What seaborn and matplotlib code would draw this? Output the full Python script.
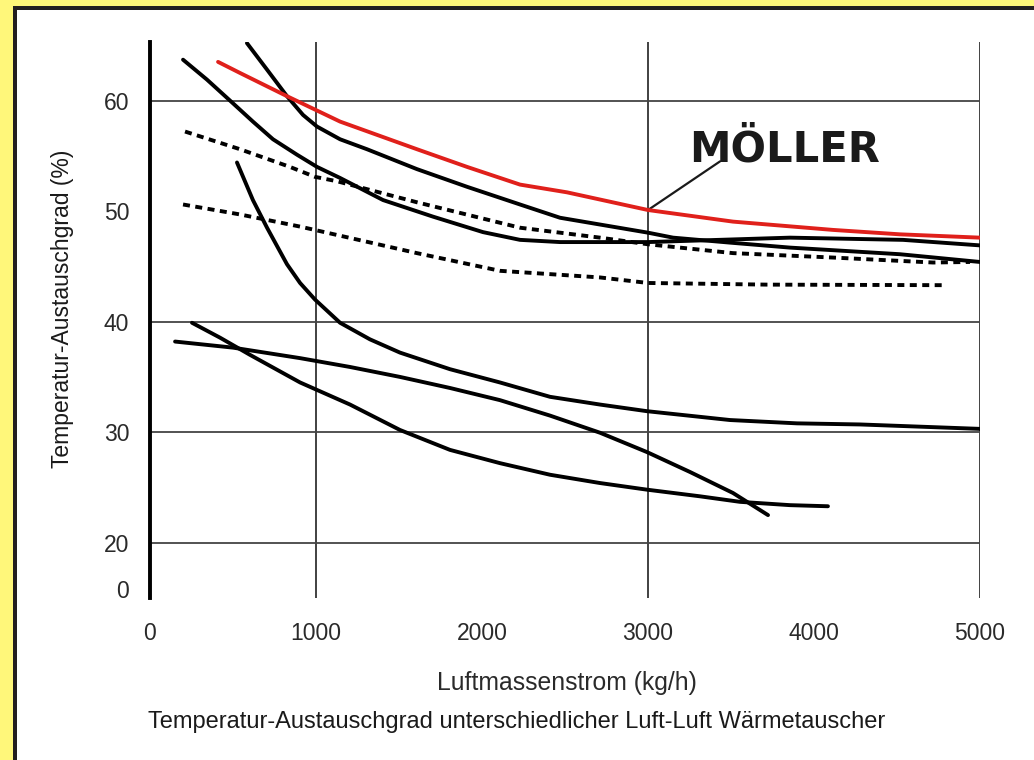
import numpy as np
import pandas as pd
import seaborn as sns
import matplotlib.pyplot as plt
from matplotlib.patches import Rectangle

# curves (x = Luftmassenstrom kg/h, y = Austauschgrad %)
moeller_x = [410, 542, 825, 1145, 1608, 1910, 2229, 2512, 3000, 3512, 4114, 4518, 5000]
moeller_y = [63.5, 62.5, 60.4, 58.1, 55.6, 54.0, 52.4, 51.7, 50.1, 49.05, 48.3, 47.9, 47.6]

a_x = [584, 705, 825, 922, 1006, 1145, 1307, 1608, 1910, 2229, 2470, 3000, 3151, 3494, 3855, 4518, 5000]
a_y = [65.2, 62.8, 60.4, 58.7, 57.65, 56.5, 55.6, 53.8, 52.2, 50.6, 49.4, 48.05, 47.6, 47.15, 46.7, 46.1, 45.4]

b_x = [199, 343, 482, 620, 741, 886, 1006, 1145, 1404, 1705, 2006, 2229, 2470, 3000, 3855, 4536, 5000]
b_y = [63.7, 61.9, 60.0, 58.1, 56.5, 55.1, 54.0, 53.0, 51.0, 49.5, 48.1, 47.4, 47.2, 47.2, 47.6, 47.4, 46.9]

c_x = [524, 620, 705, 825, 904, 994, 1145, 1325, 1506, 1807, 2108, 2410, 2711, 2994, 3494, 3898, 4277, 4639, 5000]
c_y = [54.4, 51.0, 48.5, 45.2, 43.5, 42.0, 39.9, 38.4, 37.2, 35.7, 34.5, 33.2, 32.5, 31.9, 31.1, 30.8, 30.7, 30.5, 30.3]

d_x = [151, 500, 904, 1205, 1506, 1807, 2108, 2410, 2711, 2994, 3253, 3512, 3723]
d_y = [38.2, 37.65, 36.7, 35.9, 35.0, 34.0, 32.9, 31.5, 29.95, 28.2, 26.4, 24.5, 22.5]

e_x = [253, 422, 602, 904, 1205, 1506, 1807, 2108, 2410, 2711, 2994, 3313, 3554, 3855, 4084]
e_y = [39.9, 38.55, 37.0, 34.5, 32.5, 30.2, 28.4, 27.2, 26.15, 25.4, 24.8, 24.2, 23.7, 23.4, 23.3]

dot1_x = [211, 542, 843, 994, 1127, 1608, 2229, 2711, 3000, 3512, 4114, 4717, 4940]
dot1_y = [57.2, 55.6, 54.0, 53.1, 52.7, 50.8, 48.5, 47.6, 47.0, 46.2, 45.8, 45.35, 45.4]

dot2_x = [199, 542, 904, 1608, 2108, 2711, 3000, 3717, 4789]
dot2_y = [50.6, 49.7, 48.6, 46.2, 44.6, 44.0, 43.5, 43.35, 43.3]

x_ticks = [0, 1000, 2000, 3000, 4000, 5000]
# the y axis of the original is broken below 20, "0" sits just under it
y_tick_pos = [15.8, 20, 30, 40, 50, 60]
y_tick_lab = ['0', '20', '30', '40', '50', '60']
grid_x = [1000, 3000, 5000]
grid_y = [20, 30, 40, 60]

sns.set_theme(style='white')
plt.rcParams['font.family'] = ['Liberation Sans', 'DejaVu Sans']

W, H = 1034, 760
fig = plt.figure(figsize=(W / 100, H / 100), dpi=100, facecolor='#fff77a')
# black frame line and white sheet
fig.add_artist(Rectangle((13 / W, 0), 1, 1 - 6 / H, transform=fig.transFigure,
                         facecolor='#231f20', edgecolor='none', zorder=-2))
fig.add_artist(Rectangle((17 / W, 0), 1, 1 - 10 / H, transform=fig.transFigure,
                         facecolor='white', edgecolor='none', zorder=-1))

ax = fig.add_axes([150 / W, 1 - 598 / H, 830 / W, 556 / H])
ax.patch.set_alpha(0)

for gx in grid_x:
    ax.axvline(gx, color='#333333', lw=1.3, zorder=1)
for gy in grid_y:
    ax.axhline(gy, color='#444444', lw=1.3, zorder=1)

solid = [(a_x, a_y), (b_x, b_y), (c_x, c_y), (d_x, d_y), (e_x, e_y)]
for xs, ys in solid:
    sns.lineplot(x=xs, y=ys, ax=ax, color='black', lw=2.8, zorder=3)
for xs, ys in [(dot1_x, dot1_y), (dot2_x, dot2_y)]:
    sns.lineplot(x=xs, y=ys, ax=ax, color='black', lw=2.8,
                 linestyle=(0, (1.8, 1.4)), zorder=3)
sns.lineplot(x=moeller_x, y=moeller_y, ax=ax, color='#e0201b', lw=2.8, zorder=4)

ax.text(3820, 55.6, 'MÖLLER', ha='center', va='center', fontsize=30,
        fontweight='bold', family=['DejaVu Sans'], color='#1a1a1a')
ax.annotate('', xy=(3010, 50.2), xytext=(3434, 54.5),
            arrowprops=dict(arrowstyle='-', color='#1a1a1a', lw=1.6,
                            shrinkA=0, shrinkB=0))

ax.set_xlim(0, 5000)
ax.set_ylim(15, 65.3)
ax.set_xticks(x_ticks)
ax.set_yticks(y_tick_pos)
ax.set_yticklabels(y_tick_lab)
ax.tick_params(axis='both', length=0, labelsize=16.5, labelcolor='#2a2a2a')
ax.tick_params(axis='x', pad=17.5)
ax.tick_params(axis='y', pad=15)

for side in ['top', 'right', 'bottom']:
    ax.spines[side].set_visible(False)
ax.spines['left'].set_color('black')
ax.spines['left'].set_linewidth(2.8)

ax.set_xlabel('Luftmassenstrom (kg/h)', fontsize=17.8, color='#2a2a2a')
ax.xaxis.label.set_va('center')
ax.xaxis.set_label_coords(0.502, -0.153)
ax.set_ylabel('Temperatur-Austauschgrad (%)', fontsize=16.5, color='#1a1a1a')
ax.yaxis.label.set_va('center')
ax.yaxis.set_label_coords(-0.106, 0.52)

fig.text(517 / W, 1 - 722 / H,
         'Temperatur-Austauschgrad unterschiedlicher Luft-Luft Wärmetauscher',
         ha='center', va='center', fontsize=17, color='#1a1a1a')

fig.savefig('out.png', dpi=100, facecolor=fig.get_facecolor())
